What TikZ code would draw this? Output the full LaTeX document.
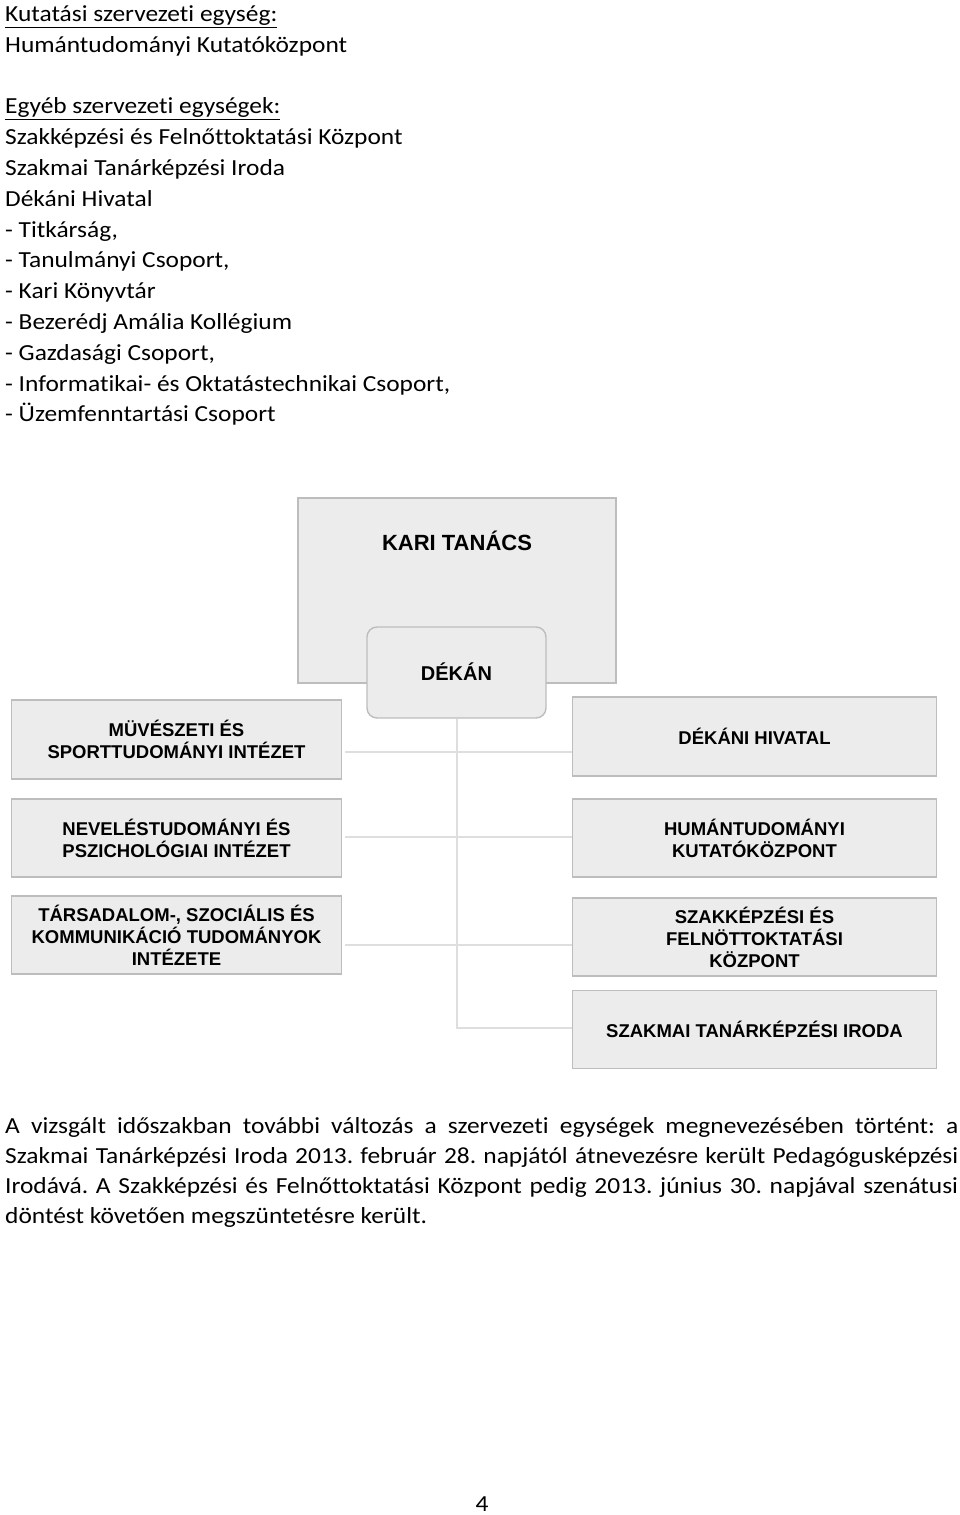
\documentclass[tikz,border=0pt]{standalone}
\usepackage{fontspec}
\setmainfont{Carlito}[Ligatures=NoCommon, FakeStretch=1.105]
\newfontfamily\boxfont{Liberation Sans}

\definecolor{boxfill}{HTML}{ECECEC}
\definecolor{boxline}{HTML}{BDBDBD}
\definecolor{linkline}{HTML}{DEDEDE}

\begin{document}
\frenchspacing
\begin{tikzpicture}[x=1pt, y=-1pt,
    every node/.style={inner sep=0pt},
    para/.style={anchor=base west, font=\fontsize{23}{30}\selectfont},
    unit/.style={draw=boxline, fill=boxfill, line width=1.4pt, minimum height=78pt,
        align=center, font=\boxfont\bfseries\fontsize{18.5}{22}\selectfont},
    leftunit/.style={unit, minimum width=330pt},
    rightunit/.style={unit, minimum width=364pt},
    link/.style={draw=linkline, line width=1.2pt}]
    \useasboundingbox (0,0) rectangle (960,1515);
    \fill[white] (0,0) rectangle (960,1515);

    % units listed above the chart
    \node[para] (head1) at (5,21.5) {\underline{Kutatási szervezeti egység:}};
    \node[para] (line1) at (5,52.3) {Humántudományi Kutatóközpont};
    \node[para] (head2) at (5,113.9) {\underline{Egyéb szervezeti egységek:}};
    \foreach \txt [count=\k] in {Szakképzési és Felnőttoktatási Központ,
        Szakmai Tanárképzési Iroda, Dékáni Hivatal, {- Titkárság,},
        {- Tanulmányi Csoport,}, - Kari Könyvtár, - Bezerédj Amália Kollégium,
        {- Gazdasági Csoport,}, {- Informatikai- és Oktatástechnikai Csoport,},
        - Üzemfenntartási Csoport}
        \node[para] (item\k) at (5,113.9+30.8*\k) {\txt};

    % chart
    \node[unit, minimum width=318pt, minimum height=185pt,
        label={[anchor=center, yshift=-44pt, font=\boxfont\bfseries\fontsize{22}{24}\selectfont]north:KARI TANÁCS}]
        (kari) at (457,590.5) {};
    \node[unit, minimum width=179pt, minimum height=91pt, rounded corners=10pt,
        font=\boxfont\bfseries\fontsize{20}{24}\selectfont] (dekan) at (456.5,672.5) {\raisebox{2pt}{DÉKÁN}};

    \node[leftunit, minimum height=79pt] (muv) at (176.5,739.5) {MÜVÉSZETI ÉS\\SPORTTUDOMÁNYI INTÉZET};
    \node[leftunit] (nev) at (176.5,838) {NEVELÉSTUDOMÁNYI ÉS\\PSZICHOLÓGIAI INTÉZET};
    \node[leftunit] (tar) at (176.5,935) {TÁRSADALOM-, SZOCIÁLIS ÉS\\KOMMUNIKÁCIÓ TUDOMÁNYOK\\INTÉZETE};

    \node[rightunit, minimum height=79pt] (hiv) at (754.5,736.5) {DÉKÁNI HIVATAL};
    \node[rightunit] (hum) at (754.5,838) {HUMÁNTUDOMÁNYI\\KUTATÓKÖZPONT};
    \node[rightunit] (szk) at (754.5,937) {SZAKKÉPZÉSI ÉS\\FELNÖTTOKTATÁSI\\KÖZPONT};
    \node[rightunit] (iro) at (754.5,1029.5) {SZAKMAI TANÁRKÉPZÉSI IRODA};

    \coordinate (s1) at (457,752);
    \coordinate (s2) at (457,837);
    \coordinate (s3) at (457,945);
    \coordinate (s4) at (457,1028);
    \draw[link] (dekan.south -| s1) -- (s4) -- (iro.west |- s4);
    \draw[link, shorten <=3pt] (muv.east |- s1) -- (hiv.west |- s1);
    \draw[link, shorten <=3pt] (nev.east |- s2) -- (hum.west |- s2);
    \draw[link, shorten <=3pt] (tar.east |- s3) -- (szk.west |- s3);

    % note below the chart
    \node[para] (note1) at (5,1133) {\makebox[953pt][s]{A vizsgált időszakban további változás a szervezeti egységek megnevezésében történt: a}};
    \node[para] (note2) at (5,1163) {\makebox[953pt][s]{Szakmai Tanárképzési Iroda 2013. február 28. napjától átnevezésre került Pedagógusképzési}};
    \node[para] (note3) at (5,1193) {\makebox[953pt][s]{Irodává. A Szakképzési és Felnőttoktatási Központ pedig 2013. június 30. napjával szenátusi}};
    \node[para] (note4) at (5,1223) {döntést követően megszüntetésre került.};

    \node[para, anchor=base] (page) at (482,1511) {4};
\end{tikzpicture}
\end{document}
